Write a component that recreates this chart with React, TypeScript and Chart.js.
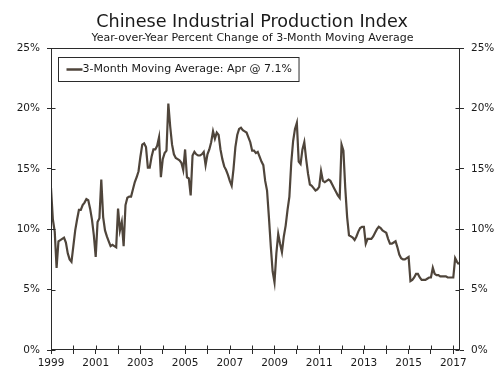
import { useEffect, useRef } from 'react';
import { Chart, registerables } from 'chart.js';

Chart.register(...registerables);

// ---- Data (monthly, Jan 1999 .. Apr 2017), YoY % change of 3-month moving average ----
const startYear = 1999;
const ipYoY: number[] = [
  // 1999
  13.4, 10.8, 9.8, 6.8, 9.0, 9.1, 9.2, 9.3, 8.9, 8.0, 7.5, 7.3,
  // 2000
  8.6, 9.9, 10.8, 11.6, 11.6, 12.0, 12.2, 12.5, 12.4, 11.7, 10.8, 9.5,
  // 2001
  7.7, 10.6, 10.9, 14.1, 11.0, 9.9, 9.4, 9.0, 8.6, 8.7, 8.6, 8.5,
  // 2002
  11.7, 9.9, 10.6, 8.6, 12.0, 12.6, 12.7, 12.7, 13.3, 13.9, 14.3, 14.8,
  // 2003
  16.0, 17.0, 17.1, 16.8, 15.1, 15.1, 16.0, 16.6, 16.6, 16.9, 17.6, 14.3,
  // 2004
  15.8, 16.3, 16.5, 20.4, 18.5, 17.0, 16.2, 15.9, 15.8, 15.7, 15.5, 14.9,
  // 2005
  16.6, 14.3, 14.2, 12.8, 16.1, 16.4, 16.2, 16.1, 16.1, 16.2, 16.4, 15.3,
  // 2006
  16.2, 16.6, 17.2, 18.1, 17.5, 18.0, 17.8, 16.6, 15.8, 15.2, 14.9, 14.5,
  // 2007
  14.0, 13.6, 15.0, 16.8, 17.8, 18.3, 18.4, 18.2, 18.1, 18.0, 17.6, 17.2,
  // 2008
  16.5, 16.5, 16.3, 16.4, 16.0, 15.6, 15.3, 14.0, 13.2, 11.0, 8.6, 6.5,
  // 2009
  5.6, 8.0, 9.6, 8.8, 8.1, 9.4, 10.3, 11.6, 12.7, 15.5, 17.3, 18.3,
  // 2010
  18.8, 15.6, 15.4, 16.6, 17.2, 15.8, 14.6, 13.7, 13.6, 13.4, 13.2, 13.3,
  // 2011
  13.5, 14.8, 14.0, 13.9, 14.0, 14.1, 14.0, 13.7, 13.4, 13.1, 12.8, 12.6,
  // 2012
  17.0, 16.5, 13.4, 11.0, 9.5, 9.4, 9.3, 9.1, 9.4, 9.8, 10.1, 10.2,
  // 2013
  10.2, 8.8, 9.2, 9.2, 9.2, 9.4, 9.7, 10.0, 10.2, 10.1, 9.9, 9.8,
  // 2014
  9.7, 9.2, 8.8, 8.8, 8.9, 9.0, 8.5, 7.9, 7.6, 7.5, 7.5, 7.6,
  // 2015
  7.7, 5.7, 5.8, 6.0, 6.3, 6.3, 6.0, 5.8, 5.8, 5.8, 5.9, 6.0,
  // 2016
  6.0, 6.8, 6.3, 6.2, 6.2, 6.1, 6.1, 6.1, 6.1, 6.0, 6.0, 6.0,
  // 2017
  6.0, 7.6, 7.3, 7.1,
];

const seriesLabel = '3-Month Moving Average: Apr @ 7.1%';
const titleText = 'Chinese Industrial Production Index';
const subtitleText = 'Year-over-Year Percent Change of 3-Month Moving Average';
const xLabelYears = [1999, 2001, 2003, 2005, 2007, 2009, 2011, 2013, 2015, 2017];
const yTickValues = [0, 5, 10, 15, 20, 25];

const FONT = "'DejaVu Sans', Verdana, sans-serif";
const LINE = '#4f453b';
const AXIS = '#2b2b2b';
const TEXT = '#1a1a1a';

const framePlugin = {
  id: 'frame',
  afterDraw(chart: any) {
    const { ctx, chartArea } = chart;
    const { left, right, top, bottom } = chartArea;
    const L = Math.round(left) + 0.5;
    const R = Math.round(right) - 0.5;
    const T = Math.round(top) + 0.5;
    const B = Math.round(bottom) - 0.5;
    ctx.save();
    ctx.strokeStyle = AXIS;
    ctx.lineWidth = 1;
    ctx.strokeRect(L, T, R - L, B - T);
    // inner tick marks
    ctx.beginPath();
    const xs = chart.scales.x;
    xs.ticks.forEach((t: any) => {
      const px = Math.round(xs.getPixelForValue(t.value)) + 0.5;
      ctx.moveTo(px, B);
      ctx.lineTo(px, B - 4);
    });
    const ys = chart.scales.y;
    ys.ticks.forEach((t: any) => {
      const py = Math.round(ys.getPixelForValue(t.value)) + 0.5;
      ctx.moveTo(L, py);
      ctx.lineTo(L + 4, py);
      ctx.moveTo(R, py);
      ctx.lineTo(R - 4, py);
    });
    ctx.stroke();

    // Title & subtitle
    ctx.fillStyle = TEXT;
    ctx.textAlign = 'center';
    ctx.textBaseline = 'alphabetic';
    ctx.font = `17.6px ${FONT}`;
    ctx.fillText(titleText, 252, 26.5);
    ctx.font = `11px ${FONT}`;
    ctx.fillText(subtitleText, 252.5, 40.5);

    // Legend box
    const ds = chart.data.datasets[0];
    ctx.font = `11px ${FONT}`;
    const tw = ctx.measureText(ds.label).width;
    const bx = Math.round(left) + 7.5;
    const by = Math.round(top) + 9.5;
    const bw = 24 + tw + 7;
    const bh = 24;
    ctx.strokeStyle = AXIS;
    ctx.lineWidth = 1;
    ctx.strokeRect(bx, by, bw, bh);
    ctx.strokeStyle = ds.borderColor;
    ctx.lineWidth = 2.5;
    ctx.beginPath();
    ctx.moveTo(bx + 8, by + 12);
    ctx.lineTo(bx + 24, by + 12);
    ctx.stroke();
    ctx.fillStyle = TEXT;
    ctx.textAlign = 'left';
    ctx.textBaseline = 'middle';
    ctx.fillText(ds.label, bx + 24, by + 12);
    ctx.restore();
  },
};

export default function App() {
  const ref = useRef<HTMLCanvasElement>(null);
  useEffect(() => {
    if (!ref.current) return;
    const points = ipYoY.map((v, i) => ({ x: startYear + i / 12, y: v }));
    const tickFont = { family: FONT, size: 10.5 };
    const yScale = (pos: 'left' | 'right', w: number) => ({
      position: pos,
      min: 0,
      max: 25,
      afterFit: (s: any) => {
        s.width = w;
      },
      afterBuildTicks: (s: any) => {
        s.ticks = yTickValues.map((v) => ({ value: v }));
      },
      ticks: {
        stepSize: 5,
        callback: (v: any) => `${v}%`,
        font: tickFont,
        color: TEXT,
        padding: 7,
      },
      grid: { drawOnChartArea: false, tickLength: 4, color: AXIS },
      border: { display: false },
    });
    const chart = new Chart(ref.current, {
      type: 'line',
      data: {
        datasets: [
          {
            label: seriesLabel,
            data: points,
            borderColor: LINE,
            borderWidth: 2.2,
            pointRadius: 0,
            tension: 0,
            yAxisID: 'y',
          },
        ],
      },
      options: {
        responsive: false,
        animation: false,
        devicePixelRatio: 1,
        layout: { padding: { top: 48, left: 0, right: 0, bottom: 0 } },
        plugins: {
          legend: { display: false },
          tooltip: { enabled: false },
          title: { display: false },
        },
        scales: {
          x: {
            type: 'linear',
            min: 1999,
            max: 2017.3,
            afterFit: (s: any) => {
              s.height = 20;
            },
            ticks: {
              stepSize: 1,
              autoSkip: false,
              maxRotation: 0,
              includeBounds: false,
              callback: (v: any) => (xLabelYears.includes(v) ? String(v) : ''),
              font: tickFont,
              color: TEXT,
              padding: 3,
            },
            grid: { drawOnChartArea: false, tickLength: 4, color: AXIS },
            border: { display: false },
          },
          y: yScale('left', 51),
          y2: yScale('right', 40),
        },
      } as any,
      plugins: [framePlugin],
    });
    return () => chart.destroy();
  }, []);
  return (
    <div style={{ position: 'fixed', left: 0, top: 0, width: 500, height: 370, background: '#fff' }}>
      <canvas ref={ref} width={500} height={370} style={{ width: 500, height: 370, display: 'block' }} />
    </div>
  );
}
